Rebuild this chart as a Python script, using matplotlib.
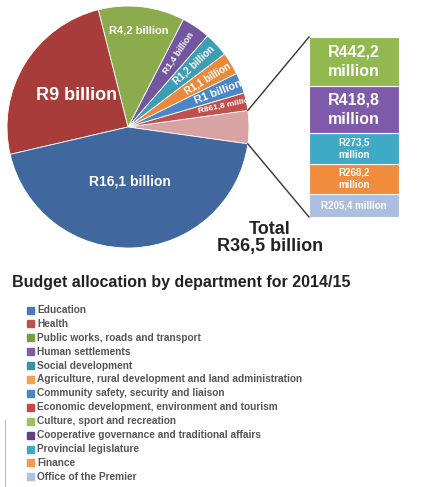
import matplotlib
matplotlib.use("Agg")
import matplotlib.pyplot as plt
import numpy as np

plt.rcParams['font.family'] = ['Liberation Sans', 'DejaVu Sans']

# pie slices, counterclockwise from the "other" slice
pie_values = [1.6081, 0.8618, 1.0, 1.1, 1.2, 1.4, 4.2, 9.0, 16.1]
pie_labels = ["", "R861,8 million", "R1 billion", "R1,1 billion", "R1,2 billion",
              "R1,4 billion", "R4,2 billion", "R9 billion", "R16,1 billion"]
pie_colors = ["#d9a3a3", "#c0504d", "#4a86c8", "#e8893b", "#3e9db3",
              "#7356a0", "#8cab4d", "#a83c3a", "#41679f"]

box_values = [205.4, 268.2, 273.5, 418.8, 442.2]
box_labels = ["R205,4 million", "R268,2\nmillion", "R273,5\nmillion", "R418,8\nmillion", "R442,2\nmillion"]
box_colors = ["#adbfe0", "#f08c3c", "#3eaac6", "#7f5aaa", "#91b94f"]

legend_labels = ["Education", "Health", "Public works, roads and transport", "Human settlements",
                 "Social development", "Agriculture, rural development and land administration",
                 "Community safety, security and liaison", "Economic development, environment and tourism",
                 "Culture, sport and recreation", "Cooperative governance and traditional affairs",
                 "Provincial legislature", "Finance", "Office of the Premier"]
legend_colors = ["#4a7ab8", "#c0504d", "#76a03f", "#7f5aaa", "#3a92a6", "#f6a050", "#4a86c8",
                 "#c9484a", "#9cc35a", "#5a4484", "#3eaac6", "#f39a52", "#b0c0e0"]

H = 487
fig = plt.figure(figsize=(4.23, 4.87), dpi=100)
ax = fig.add_axes([0, 0, 1, 1])

cx, cy, R = 128, H - 127, 121
total = sum(pie_values)
start = -8.0
ax.pie(pie_values, colors=pie_colors, startangle=start, counterclock=True,
       center=(cx, cy), radius=R, frame=True,
       wedgeprops=dict(linewidth=0.6, edgecolor='white'))
ax.set_xlim(0, 423); ax.set_ylim(0, H); ax.set_aspect('equal'); ax.axis('off')

label_r = [0, 0.83, 0.8, 0.77, 0.75, 0.74, 0.8, 0.5, 0.45]
label_fs = [0, 6, 8, 7, 7, 6.5, 8, 13, 10]
ang = start
for v, lab, r, fs in zip(pie_values, pie_labels, label_r, label_fs):
    a0 = ang
    ang += v / total * 360
    if not lab:
        continue
    mid = (a0 + ang) / 2
    rad = np.deg2rad(mid)
    x, y = cx + r * R * np.cos(rad), cy + r * R * np.sin(rad)
    rot = mid if 0 < mid < 90 and v < 2 else 0
    ax.text(x, y, lab, color='white', fontsize=fs, fontweight='bold',
            ha='center', va='center', rotation=rot, rotation_mode='anchor')

# zoom box as stacked bar
bx, bw = 309, 90
scale = 180 / sum(box_values)
bottom = H - 217
for v, lab, c in zip(box_values, box_labels, box_colors):
    h = v * scale
    ax.bar(bx + bw / 2, h, width=bw, bottom=bottom, color=c, edgecolor='white', linewidth=0.8)
    fs = 11.5 if v > 400 else (7 if v > 250 else 7)
    ax.text(bx + bw / 2, bottom + h / 2, lab, color='white', fontsize=fs, fontweight='bold',
            ha='center', va='center', linespacing=1.35)
    bottom += h

# connector lines
a_top = np.deg2rad(start + pie_values[0] / total * 360)
a_bot = np.deg2rad(start)
ax.plot([cx + R * np.cos(a_top), bx], [cy + R * np.sin(a_top), H - 37], color='#333333', lw=1)
ax.plot([cx + R * np.cos(a_bot), bx], [cy + R * np.sin(a_bot), H - 217], color='#333333', lw=1)

ax.text(270, H - 238, "Total\nR36,5 billion", fontsize=13, fontweight='bold', color='#222222',
        ha='center', va='center', linespacing=1.05)

ax.text(12, H - 282, "Budget allocation by department for 2014/15", fontsize=11.5,
        fontweight='bold', color='#222222', ha='left', va='center')

for i, (lab, c) in enumerate(zip(legend_labels, legend_colors)):
    y = H - (310 + i * 13.9)
    ax.add_patch(plt.Rectangle((27, y - 3.5), 7, 7, color=c))
    ax.text(37, y, lab, fontsize=7.3, fontweight='bold', color='#555555', ha='left', va='center')

ax.plot([5, 5], [0, H - 420], color='#bbbbbb', lw=0.8)

fig.savefig("out.png", dpi=100)
